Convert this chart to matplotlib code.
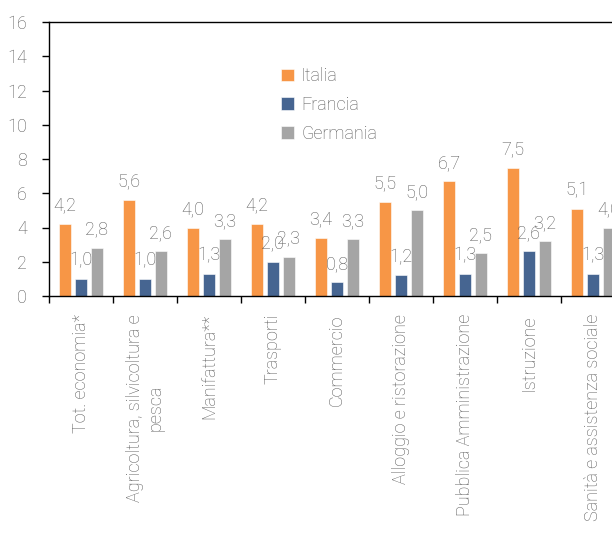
import numpy as np
import matplotlib.pyplot as plt

plt.rcParams['font.family'] = ['Roboto', 'DejaVu Sans']
plt.rcParams['font.weight'] = 'light'

categorie = ['Tot. economia*', 'Agricoltura, silvicoltura e\npesca', 'Manifattura**',
             'Trasporti', 'Commercio', 'Alloggio e ristorazione',
             'Pubblica Amministrazione', 'Istruzione', 'Sanità e assistenza sociale']
italia = [4.2, 5.6, 4.0, 4.2, 3.4, 5.5, 6.7, 7.5, 5.1]
francia = [1.0, 1.0, 1.3, 2.0, 0.8, 1.2, 1.3, 2.6, 1.3]
germania = [2.8, 2.6, 3.3, 2.3, 3.3, 5.0, 2.5, 3.2, 4.0]

serie = [('Italia', italia, '#F79646'),
         ('Francia', francia, '#466591'),
         ('Germania', germania, '#A5A5A5')]

testo = '#595959'
fs = 13

fig = plt.figure(figsize=(6.12, 5.36), dpi=100)
# the axes run past the right border, as in the original (cut off)
ax = fig.add_axes([49 / 612, 240 / 536, 9 * 64 / 612, 274 / 536])

x = np.arange(len(categorie))
w = 0.2
for i, (nome, vals, col) in enumerate(serie):
    pos = x + (i - 1) * 0.25
    ax.bar(pos, vals, width=w, color=col, label=nome, edgecolor='white', linewidth=0.4)
    for p, v in zip(pos, vals):
        ax.text(p, v + 0.55, f'{v:.1f}'.replace('.', ','), ha='center', va='bottom',
                fontsize=fs, color=testo)

ax.set_xlim(-0.5, len(categorie) - 0.5)
ax.set_ylim(0, 16)
ax.set_yticks(np.arange(0, 17, 2))
ax.tick_params(axis='y', length=5, pad=11, labelsize=fs, labelcolor=testo, width=1)

ax.set_xticks(np.arange(-0.5, len(categorie), 1))
ax.set_xticklabels([])
ax.tick_params(axis='x', which='major', length=5, width=1)
ax.set_xticks(x, minor=True)
ax.set_xticklabels(categorie, minor=True, rotation=90, ha='center', va='top',
                   multialignment='center', fontsize=fs, color=testo)
ax.tick_params(axis='x', which='minor', length=0, pad=13)

for s in ['left', 'bottom', 'top']:
    ax.spines[s].set_linewidth(1)
    ax.spines[s].set_color('black')
ax.spines['right'].set_visible(False)

ax.legend(loc='upper left', bbox_to_anchor=(265 / 612, 1 - 51 / 536),
          bbox_transform=fig.transFigure, frameon=False, fontsize=fs,
          labelcolor=testo, handlelength=0.7, handleheight=0.7,
          handletextpad=0.4, labelspacing=0.6)

fig.savefig('out.png', dpi=100)
